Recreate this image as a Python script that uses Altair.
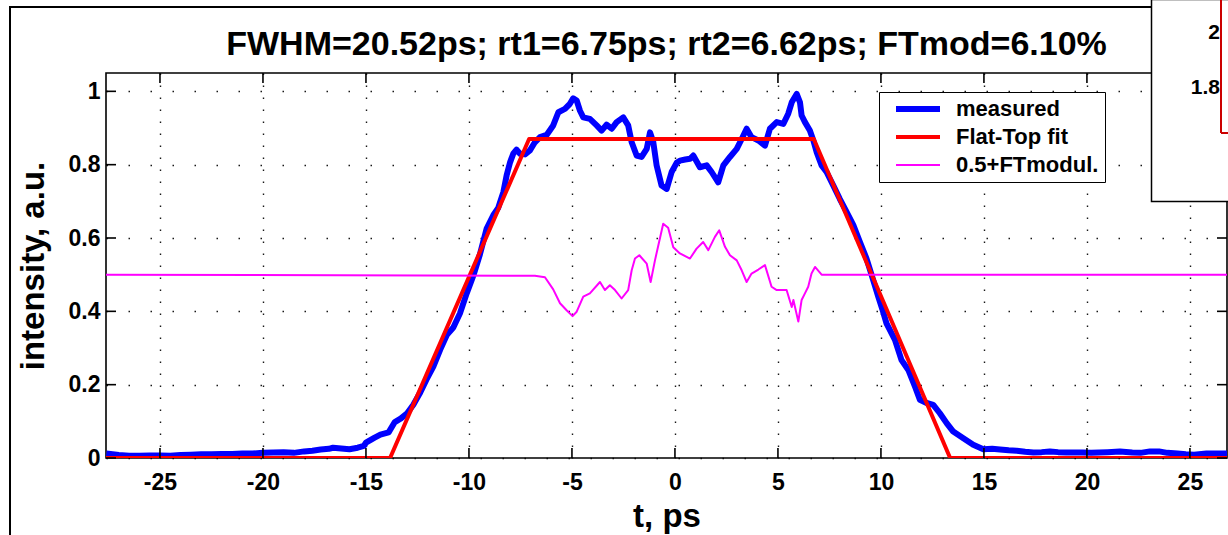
import altair as alt
import pandas as pd

W, H = 1121, 385

x_ticks = [-25, -20, -15, -10, -5, 0, 5, 10, 15, 20, 25]
y_ticks = [0, 0.2, 0.4, 0.6, 0.8, 1]

series_names = ["measured", "Flat-Top fit", "0.5+FTmodul."]
series_colors = ["#0000ff", "#ff0000", "#ff00ff"]
series_widths = [6, 2, 1.6]

meas_t = [-27.6, -27.0, -26.5, -26.0, -25.5, -25.0, -24.5, -24.0, -23.5, -23.0, -22.5, -22.0,
          -21.5, -21.0, -20.5, -20.0, -19.5, -19.0, -18.5, -18.0, -17.6, -17.2, -16.8, -16.6,
          -16.2, -15.8, -15.4, -15.1, -15.0, -14.6, -14.3, -13.9, -13.6, -13.3, -13.0, -12.7,
          -12.4, -12.07, -11.73, -11.4, -11.08, -10.76, -10.44, -10.11, -9.79, -9.47, -9.14,
          -8.82, -8.58, -8.33, -8.17, -8.0, -7.85, -7.69, -7.52, -7.28, -7.04, -6.8, -6.55,
          -6.23, -5.91, -5.66, -5.34, -5.1, -4.94, -4.77, -4.61, -4.45, -4.13, -3.8, -3.56,
          -3.32, -3.07, -2.83, -2.51, -2.27, -2.1, -1.86, -1.62, -1.37, -1.21, -1.05, -0.89,
          -0.65, -0.4, -0.16, 0.08, 0.24, 0.5, 0.73, 0.89, 1.21, 1.54, 1.78, 2.1, 2.35, 2.67,
          3.0, 3.24, 3.48, 3.72, 4.05, 4.37, 4.61, 4.94, 5.26, 5.5, 5.67, 5.91, 6.07, 6.15,
          6.31, 6.55, 6.72, 6.88, 7.12, 7.36, 7.69, 8.0, 8.33, 8.66, 8.98, 9.3, 9.55, 9.87,
          10.1, 10.27, 10.68, 11.0, 11.33, 11.65, 11.89, 12.22, 12.54, 12.86, 13.19, 13.51,
          14.0, 14.48, 14.97, 15.4, 15.78, 16.2, 16.59, 17.0, 17.4, 17.8, 18.2, 18.6, 19.0,
          19.4, 19.8, 20.2, 20.6, 21.0, 21.6, 22.2, 22.6, 23.06, 23.5, 23.9, 24.4, 24.8, 25.2,
          25.8, 26.3, 26.8]
meas_v = [0.012, 0.008, 0.006, 0.006, 0.007, 0.007, 0.006, 0.008, 0.009, 0.010, 0.010, 0.011,
          0.011, 0.012, 0.012, 0.014, 0.015, 0.016, 0.014, 0.018, 0.020, 0.023, 0.025, 0.028,
          0.026, 0.024, 0.028, 0.033, 0.042, 0.055, 0.064, 0.070, 0.098, 0.108, 0.122, 0.145,
          0.175, 0.213, 0.249, 0.295, 0.335, 0.356, 0.394, 0.449, 0.497, 0.555, 0.626,
          0.662, 0.682, 0.725, 0.771, 0.807, 0.830, 0.841, 0.830, 0.828, 0.839, 0.861, 0.875,
          0.881, 0.907, 0.943, 0.952, 0.966, 0.981, 0.975, 0.947, 0.929, 0.925, 0.907, 0.893,
          0.909, 0.898, 0.916, 0.929, 0.907, 0.861, 0.825, 0.821, 0.843, 0.888, 0.861, 0.798,
          0.743, 0.734, 0.780, 0.805, 0.811, 0.814, 0.816, 0.825, 0.793, 0.798, 0.780, 0.752,
          0.798, 0.821, 0.843, 0.870, 0.898, 0.875, 0.866, 0.852, 0.898, 0.916, 0.911, 0.939,
          0.970, 0.993, 0.970, 0.934, 0.916, 0.893, 0.866, 0.834, 0.798, 0.780, 0.743, 0.707,
          0.671, 0.635, 0.589, 0.544, 0.499, 0.440, 0.400, 0.367, 0.322, 0.267, 0.240, 0.195,
          0.159, 0.150, 0.145, 0.122, 0.095, 0.072, 0.054, 0.036, 0.024, 0.025, 0.023, 0.021,
          0.020, 0.017, 0.015, 0.016, 0.018, 0.016, 0.015, 0.015, 0.015, 0.014, 0.015, 0.016,
          0.018, 0.015, 0.014, 0.018, 0.018, 0.014, 0.012, 0.010, 0.009, 0.012, 0.012, 0.012]

fit_t = [-27.62, -13.83, -7.08, 6.74, 13.36, 26.8]
fit_v = [0.0, 0.0, 0.87, 0.87, 0.0, 0.0]

mod_t = [-27.62, -6.8, -6.31, -5.91, -5.58, -5.26, -4.97, -4.77, -4.45, -4.13, -3.64, -3.4,
         -3.16, -2.91, -2.59, -2.27, -2.1, -1.94, -1.73, -1.37, -1.18, -0.97, -0.57, -0.33,
         -0.08, 0.24, 0.73, 1.05, 1.37, 1.62, 1.94, 2.15, 2.43, 2.67, 3.0, 3.24, 3.48, 3.72,
         4.05, 4.37, 4.69, 4.94, 5.42, 5.67, 5.75, 5.99, 6.15, 6.31, 6.47, 6.63, 6.8, 7.12, 26.8]
mod_v = [0.5, 0.497, 0.493, 0.460, 0.422, 0.403, 0.387, 0.399, 0.440, 0.449, 0.480, 0.458,
         0.471, 0.458, 0.435, 0.458, 0.512, 0.544, 0.553, 0.530, 0.480, 0.539, 0.639, 0.628,
         0.575, 0.558, 0.544, 0.571, 0.589, 0.567, 0.603, 0.621, 0.576, 0.553, 0.539, 0.512,
         0.480, 0.503, 0.514, 0.526, 0.467, 0.458, 0.458, 0.412, 0.431, 0.372, 0.431, 0.449,
         0.467, 0.503, 0.521, 0.5, 0.5]

title_text = "FWHM=20.52ps; rt1=6.75ps; rt2=6.62ps; FTmod=6.10%"
inset_labels = ["2", "1.8"]

FONT = "Liberation Sans"

df_meas = pd.DataFrame({"t": meas_t, "v": meas_v, "series": series_names[0]})
df_fit = pd.DataFrame({"t": fit_t, "v": fit_v, "series": series_names[1]})
df_mod = pd.DataFrame({"t": mod_t, "v": mod_v, "series": series_names[2]})

x_enc = alt.X("t:Q", title="t, ps",
              scale=alt.Scale(domain=[-27.62, 26.8], nice=False, zero=False),
              axis=alt.Axis(values=x_ticks, labelExpr="'' + datum.value", grid=True,
                            gridDash=[1.5, 10.5], titlePadding=6, labelPadding=13))
y_enc = alt.Y("v:Q", title="intensity, a.u.",
              scale=alt.Scale(domain=[0, 1.05], nice=False),
              axis=alt.Axis(values=y_ticks, labelExpr="'' + datum.value", grid=True,
                            gridDash=[1.5, 20.5], titlePadding=18, labelPadding=6))
color_enc = alt.Color("series:N", title=None,
                      scale=alt.Scale(domain=series_names, range=series_colors))
sw_enc = alt.StrokeWidth("series:N", title=None,
                         scale=alt.Scale(domain=series_names, range=series_widths))


def line_layer(df):
    return alt.Chart(df).mark_line(clip=True, strokeJoin="round").encode(
        x=x_enc, y=y_enc, color=color_enc, strokeWidth=sw_enc)


lines = [line_layer(df_meas), line_layer(df_fit), line_layer(df_mod)]

df_xt = pd.DataFrame({"t": x_ticks})
df_yt = pd.DataFrame({"v": y_ticks})
tick_style = dict(size=10, thickness=1.6, color="black", opacity=1)
xt_bot = alt.Chart(df_xt).mark_tick(orient="vertical", **tick_style).encode(
    x=x_enc, y=alt.value(H - 5))
xt_top = alt.Chart(df_xt).mark_tick(orient="vertical", **tick_style).encode(
    x=x_enc, y=alt.value(5))
yt_left = alt.Chart(df_yt).mark_tick(orient="horizontal", **tick_style).encode(
    y=y_enc, x=alt.value(5))
yt_right = alt.Chart(df_yt).mark_tick(orient="horizontal", **tick_style).encode(
    y=y_enc, x=alt.value(W - 5))

one = pd.DataFrame({"a": [0]})
outer_frame = alt.Chart(one).mark_rect(fillOpacity=0, stroke="black", strokeWidth=2).encode(
    x=alt.value(-96), x2=alt.value(1300), y=alt.value(-66), y2=alt.value(600))
inset_box = alt.Chart(one).mark_rect(fill="white", stroke="black", strokeWidth=1.5).encode(
    x=alt.value(1045.5), x2=alt.value(1200), y=alt.value(-73.5), y2=alt.value(128.5))
inset_axis = alt.Chart(one).mark_rule(color="#cc0000", strokeWidth=2).encode(
    x=alt.value(1115), y=alt.value(-73), y2=alt.value(60))
inset_base = alt.Chart(one).mark_rule(color="#cc0000", strokeWidth=2).encode(
    x=alt.value(1115), x2=alt.value(1200), y=alt.value(60))
df_inset = pd.DataFrame({"lab": inset_labels, "pos": [-40, 15]})
inset_text = alt.Chart(df_inset).mark_text(
    align="right", baseline="middle", font=FONT, fontSize=21, fontWeight="bold",
    color="black").encode(text="lab:N", x=alt.value(1114), y=alt.Y("pos:Q", scale=None))

chart = alt.layer(
    *lines, xt_bot, xt_top, yt_left, yt_right, outer_frame, inset_box, inset_axis,
    inset_base, inset_text
).properties(
    width=W, height=H,
    title=alt.TitleParams(text=title_text, font=FONT, fontSize=34, fontWeight="bold",
                          color="black", anchor="middle", frame="group", offset=0,
                          baseline="bottom", dy=97),
    autosize=alt.AutoSizeParams(type="none"),
    padding={"left": 106, "top": 73, "right": 1, "bottom": 77},
).configure_view(
    stroke="black", strokeWidth=1.6
).configure_axis(
    labelFont=FONT, labelFontSize=23, labelFontWeight="bold", labelColor="black",
    titleFont=FONT, titleFontSize=33, titleFontWeight="bold", titleColor="black",
    domain=False, ticks=False, tickSize=0,
    gridColor="black", gridWidth=1.4, gridOpacity=0.9
).configure_legend(
    orient="none", legendX=773, legendY=19,
    strokeColor="black", fillColor="white", padding=6, cornerRadius=0,
    labelFont=FONT, labelFontSize=22, labelFontWeight="bold", labelColor="black",
    symbolType="stroke", symbolSize=1936, labelOffset=13, symbolOffset=8,
    clipHeight=22, rowPadding=6, labelLimit=400
)

chart.save("out.html", embed_options={"renderer": "svg", "actions": False})
